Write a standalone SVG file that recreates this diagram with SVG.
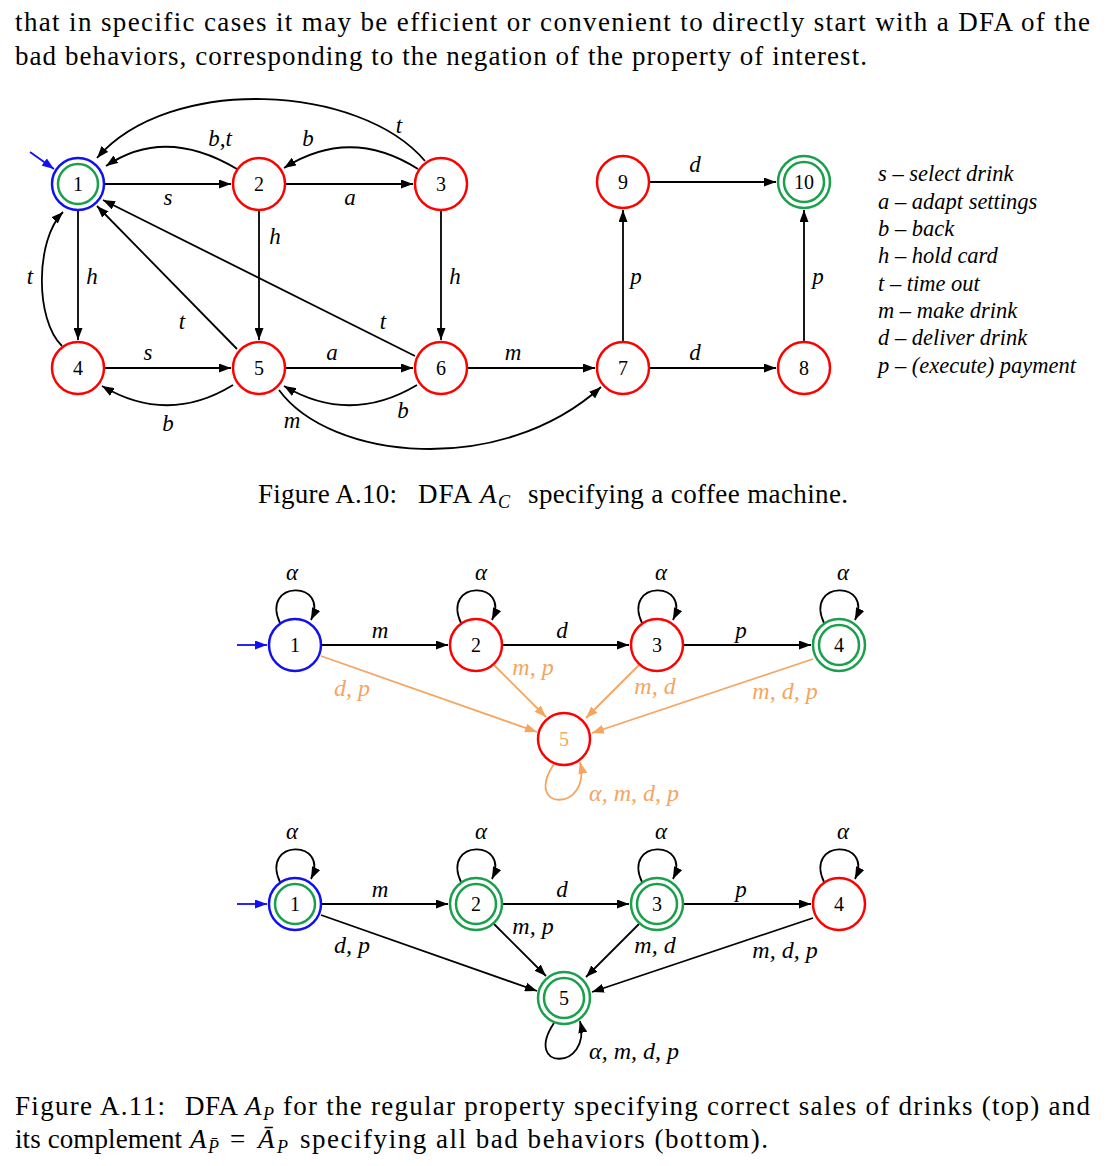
<svg xmlns="http://www.w3.org/2000/svg" width="1117" height="1166" viewBox="0 0 1117 1166">
<defs>
<style>
.bg{fill:#fff}
.e{fill:none;stroke:#000;stroke-width:1.8}
.eo{fill:none;stroke:#f5a55f;stroke-width:1.8}
.ei{fill:none;stroke:#1010f0;stroke-width:1.8}
.r{fill:#fff;stroke:#f00;stroke-width:2.5}
.g{fill:#fff;stroke:#1a9f4a;stroke-width:2.5}
.gi{fill:none;stroke:#1a9f4a;stroke-width:2.5}
.b{fill:#fff;stroke:#1010f0;stroke-width:2.5}
.num{font-family:"Liberation Serif",serif;font-size:20px;text-anchor:middle;fill:#000}
.lb{font-family:"Liberation Serif",serif;font-style:italic;font-size:23px;text-anchor:middle;fill:#000}
.lb2{font-size:24px}
.lo{fill:#f5a55f}
.leg{font-family:"Liberation Serif",serif;font-style:italic;font-size:22.5px;fill:#000}
.body{font-family:"Liberation Serif",serif;font-size:27px;fill:#000}
.it{font-style:italic}
.sub{font-family:"Liberation Serif",serif;font-style:italic;font-size:18px;fill:#000}
</style>
<marker id="ah" viewBox="0 0 12 9" refX="12" refY="4.5" markerWidth="12" markerHeight="9" markerUnits="userSpaceOnUse" orient="auto"><path d="M0,0L12,4.5L0,9z" fill="#000"/></marker>
<marker id="ao" viewBox="0 0 12 9" refX="12" refY="4.5" markerWidth="12" markerHeight="9" markerUnits="userSpaceOnUse" orient="auto"><path d="M0,0L12,4.5L0,9z" fill="#f5a55f"/></marker>
<marker id="ab" viewBox="0 0 12 9" refX="12" refY="4.5" markerWidth="12" markerHeight="9" markerUnits="userSpaceOnUse" orient="auto"><path d="M0,0L12,4.5L0,9z" fill="#1010f0"/></marker>
</defs>
<rect class="bg" x="0" y="0" width="1117" height="1166"/>

<g id="text-top">
<text class="body" x="15" y="31" textLength="1075" lengthAdjust="spacing">that in specific cases it may be efficient or convenient to directly start with a DFA of the</text>
<text class="body" x="15" y="65" textLength="852" lengthAdjust="spacing">bad behaviors, corresponding to the negation of the property of interest.</text>
</g>

<!-- Figure A.10 -->
<g id="figA10-connectors">
<path class="ei" d="M30,152 L54,169" marker-end="url(#ab)"/>
<path class="e" d="M105,184 L231,184" marker-end="url(#ah)"/>
<path class="e" d="M286,184 L413,184" marker-end="url(#ah)"/>
<path class="e" d="M237,169 Q165,126 106,166" marker-end="url(#ah)"/>
<path class="e" d="M418,169 Q350,126 284,168" marker-end="url(#ah)"/>
<path class="e" d="M425,161 C360,84 170,74 97,158" marker-end="url(#ah)"/>
<path class="e" d="M78,211 L78,340" marker-end="url(#ah)"/>
<path class="e" d="M62,346 C35,320 35,240 63,212" marker-end="url(#ah)"/>
<path class="e" d="M259,211 L259,340" marker-end="url(#ah)"/>
<path class="e" d="M441,211 L441,340" marker-end="url(#ah)"/>
<path class="e" d="M237,349 L97,206" marker-end="url(#ah)"/>
<path class="e" d="M415,356 L103,200" marker-end="url(#ah)"/>
<path class="e" d="M105,368 L231,368" marker-end="url(#ah)"/>
<path class="e" d="M233,385 Q168,425 102,386" marker-end="url(#ah)"/>
<path class="e" d="M286,368 L413,368" marker-end="url(#ah)"/>
<path class="e" d="M417,385 Q350,425 284,386" marker-end="url(#ah)"/>
<path class="e" d="M279,390 C330,460 500,478 601,387" marker-end="url(#ah)"/>
<path class="e" d="M468,368 L595,368" marker-end="url(#ah)"/>
<path class="e" d="M650,368 L776,368" marker-end="url(#ah)"/>
<path class="e" d="M623,341 L623,210" marker-end="url(#ah)"/>
<path class="e" d="M804,341 L804,210" marker-end="url(#ah)"/>
<path class="e" d="M650,182 L776,182" marker-end="url(#ah)"/>
<text class="lb" x="168" y="205">s</text>
<text class="lb" x="350" y="205">a</text>
<text class="lb" x="220" y="146">b,t</text>
<text class="lb" x="308" y="146">b</text>
<text class="lb" x="399" y="133">t</text>
<text class="lb" x="92" y="284">h</text>
<text class="lb" x="30" y="284">t</text>
<text class="lb" x="275" y="244">h</text>
<text class="lb" x="455" y="284">h</text>
<text class="lb" x="182" y="329">t</text>
<text class="lb" x="383" y="329">t</text>
<text class="lb" x="148" y="360">s</text>
<text class="lb" x="332" y="360">a</text>
<text class="lb" x="513" y="360">m</text>
<text class="lb" x="695" y="360">d</text>
<text class="lb" x="168" y="431">b</text>
<text class="lb" x="292" y="428">m</text>
<text class="lb" x="403" y="418">b</text>
<text class="lb" x="695" y="172">d</text>
<text class="lb" x="636" y="284">p</text>
<text class="lb" x="818" y="284">p</text>
</g>

<g id="A10-n1"><circle class="b" cx="78" cy="184" r="26"/><circle class="gi" cx="78" cy="184" r="20"/><text class="num" x="78" y="191">1</text></g>
<g id="A10-n2"><circle class="r" cx="259" cy="184" r="26"/><text class="num" x="259" y="191">2</text></g>
<g id="A10-n3"><circle class="r" cx="441" cy="184" r="26"/><text class="num" x="441" y="191">3</text></g>
<g id="A10-n4"><circle class="r" cx="78" cy="368" r="26"/><text class="num" x="78" y="375">4</text></g>
<g id="A10-n5"><circle class="r" cx="259" cy="368" r="26"/><text class="num" x="259" y="375">5</text></g>
<g id="A10-n6"><circle class="r" cx="441" cy="368" r="26"/><text class="num" x="441" y="375">6</text></g>
<g id="A10-n7"><circle class="r" cx="623" cy="368" r="26"/><text class="num" x="623" y="375">7</text></g>
<g id="A10-n8"><circle class="r" cx="804" cy="368" r="26"/><text class="num" x="804" y="375">8</text></g>
<g id="A10-n9"><circle class="r" cx="623" cy="182" r="26"/><text class="num" x="623" y="189">9</text></g>
<g id="A10-n10"><circle class="g" cx="804" cy="182" r="26"/><circle class="gi" cx="804" cy="182" r="20"/><text class="num" x="804" y="189">10</text></g>

<g id="legend">
<text class="leg" x="878" y="181">s – select drink</text>
<text class="leg" x="878" y="209">a – adapt settings</text>
<text class="leg" x="878" y="236">b – back</text>
<text class="leg" x="878" y="263">h – hold card</text>
<text class="leg" x="878" y="291">t – time out</text>
<text class="leg" x="878" y="318">m – make drink</text>
<text class="leg" x="878" y="345">d – deliver drink</text>
<text class="leg" x="878" y="373">p – (execute) payment</text>
</g>

<g id="caption-A10">
<text class="body" x="258" y="503" textLength="139" lengthAdjust="spacing">Figure A.10:</text>
<text class="body" x="418" y="503" textLength="54" lengthAdjust="spacing">DFA</text>
<text class="body it" x="480" y="503">A</text>
<text class="sub" x="498" y="508">C</text>
<text class="body" x="528" y="503" textLength="320" lengthAdjust="spacing">specifying a coffee machine.</text>
</g>

<!-- Figure A.11 top -->
<g id="A11top-connectors">
<path class="ei" d="M237,645 L267,645" marker-end="url(#ab)"/>
<path class="e" d="M322,645 L448,645" marker-end="url(#ah)"/>
<path class="e" d="M503,645 L629,645" marker-end="url(#ah)"/>
<path class="e" d="M684,645 L811,645" marker-end="url(#ah)"/>
<path class="e" d="M280,623 C260,580 330,580 311,620" marker-end="url(#ah)"/>
<path class="e" d="M461,623 C441,580 511,580 492,620" marker-end="url(#ah)"/>
<path class="e" d="M642,623 C622,580 692,580 673,620" marker-end="url(#ah)"/>
<path class="e" d="M824,623 C804,580 874,580 855,620" marker-end="url(#ah)"/>
<path class="eo" d="M321,656 L537,732" marker-end="url(#ao)"/>
<path class="eo" d="M494,665 L546,717" marker-end="url(#ao)"/>
<path class="eo" d="M639,665 L586,718" marker-end="url(#ao)"/>
<path class="eo" d="M813,659 L592,733" marker-end="url(#ao)"/>
<path class="eo" d="M554,764 C522,812 592,812 580,762" marker-end="url(#ao)"/>
<text class="lb" x="292" y="580">α</text>
<text class="lb" x="481" y="580">α</text>
<text class="lb" x="661" y="580">α</text>
<text class="lb" x="843" y="580">α</text>
<text class="lb" x="380" y="638">m</text>
<text class="lb" x="562" y="638">d</text>
<text class="lb" x="741" y="638">p</text>
<text class="lb lb2 lo" x="352" y="696">d, p</text>
<text class="lb lb2 lo" x="533" y="675">m, p</text>
<text class="lb lb2 lo" x="655" y="694">m, d</text>
<text class="lb lb2 lo" x="785" y="699">m, d, p</text>
<text class="lb lb2 lo" x="634" y="801">α, m, d, p</text>
</g>
<g id="A11top-n1"><circle class="b" cx="295" cy="645" r="26"/><text class="num" x="295" y="652">1</text></g>
<g id="A11top-n2"><circle class="r" cx="476" cy="645" r="26"/><text class="num" x="476" y="652">2</text></g>
<g id="A11top-n3"><circle class="r" cx="657" cy="645" r="26"/><text class="num" x="657" y="652">3</text></g>
<g id="A11top-n4"><circle class="g" cx="839" cy="645" r="26"/><circle class="gi" cx="839" cy="645" r="20"/><text class="num" x="839" y="652">4</text></g>
<g id="A11top-n5"><circle class="r" cx="564" cy="739" r="26"/><text class="num lo" x="564" y="746">5</text></g>

<!-- Figure A.11 bottom -->
<g id="A11bot-connectors">
<path class="ei" d="M237,904 L267,904" marker-end="url(#ab)"/>
<path class="e" d="M322,904 L448,904" marker-end="url(#ah)"/>
<path class="e" d="M503,904 L629,904" marker-end="url(#ah)"/>
<path class="e" d="M684,904 L811,904" marker-end="url(#ah)"/>
<path class="e" d="M280,882 C260,839 330,839 311,879" marker-end="url(#ah)"/>
<path class="e" d="M461,882 C441,839 511,839 492,879" marker-end="url(#ah)"/>
<path class="e" d="M642,882 C622,839 692,839 673,879" marker-end="url(#ah)"/>
<path class="e" d="M824,882 C804,839 874,839 855,879" marker-end="url(#ah)"/>
<path class="e" d="M321,915 L537,991" marker-end="url(#ah)"/>
<path class="e" d="M494,924 L546,976" marker-end="url(#ah)"/>
<path class="e" d="M639,924 L586,977" marker-end="url(#ah)"/>
<path class="e" d="M813,918 L592,992" marker-end="url(#ah)"/>
<path class="e" d="M554,1023 C522,1071 592,1071 580,1021" marker-end="url(#ah)"/>
<text class="lb" x="292" y="839">α</text>
<text class="lb" x="481" y="839">α</text>
<text class="lb" x="661" y="839">α</text>
<text class="lb" x="843" y="839">α</text>
<text class="lb" x="380" y="897">m</text>
<text class="lb" x="562" y="897">d</text>
<text class="lb" x="741" y="897">p</text>
<text class="lb lb2" x="352" y="953">d, p</text>
<text class="lb lb2" x="533" y="934">m, p</text>
<text class="lb lb2" x="655" y="953">m, d</text>
<text class="lb lb2" x="785" y="958">m, d, p</text>
<text class="lb lb2" x="634" y="1059">α, m, d, p</text>
</g>
<g id="A11bot-n1"><circle class="b" cx="295" cy="904" r="26"/><circle class="gi" cx="295" cy="904" r="20"/><text class="num" x="295" y="911">1</text></g>
<g id="A11bot-n2"><circle class="g" cx="476" cy="904" r="26"/><circle class="gi" cx="476" cy="904" r="20"/><text class="num" x="476" y="911">2</text></g>
<g id="A11bot-n3"><circle class="g" cx="657" cy="904" r="26"/><circle class="gi" cx="657" cy="904" r="20"/><text class="num" x="657" y="911">3</text></g>
<g id="A11bot-n4"><circle class="r" cx="839" cy="904" r="26"/><text class="num" x="839" y="911">4</text></g>
<g id="A11bot-n5"><circle class="g" cx="564" cy="998" r="26"/><circle class="gi" cx="564" cy="998" r="20"/><text class="num" x="564" y="1005">5</text></g>

<g id="caption-A11">
<text class="body" x="15" y="1115" textLength="150" lengthAdjust="spacing">Figure A.11:</text>
<text class="body" x="185" y="1115" textLength="53" lengthAdjust="spacing">DFA</text>
<text class="body it" x="245" y="1115">A</text>
<text class="sub" x="263" y="1120">P</text>
<text class="body" x="283" y="1115" textLength="807" lengthAdjust="spacing">for the regular property specifying correct sales of drinks (top) and</text>
<text class="body" x="15" y="1148" textLength="167" lengthAdjust="spacing">its complement</text>
<text class="body it" x="190" y="1148">A</text>
<text class="sub" x="208" y="1153">P̄</text>
<text class="body" x="230" y="1148">=</text>
<text class="body it" x="258" y="1148">Ā</text>
<text class="sub" x="277" y="1153">P</text>
<text class="body" x="300" y="1148" textLength="468" lengthAdjust="spacing">specifying all bad behaviors (bottom).</text>
</g>
</svg>
